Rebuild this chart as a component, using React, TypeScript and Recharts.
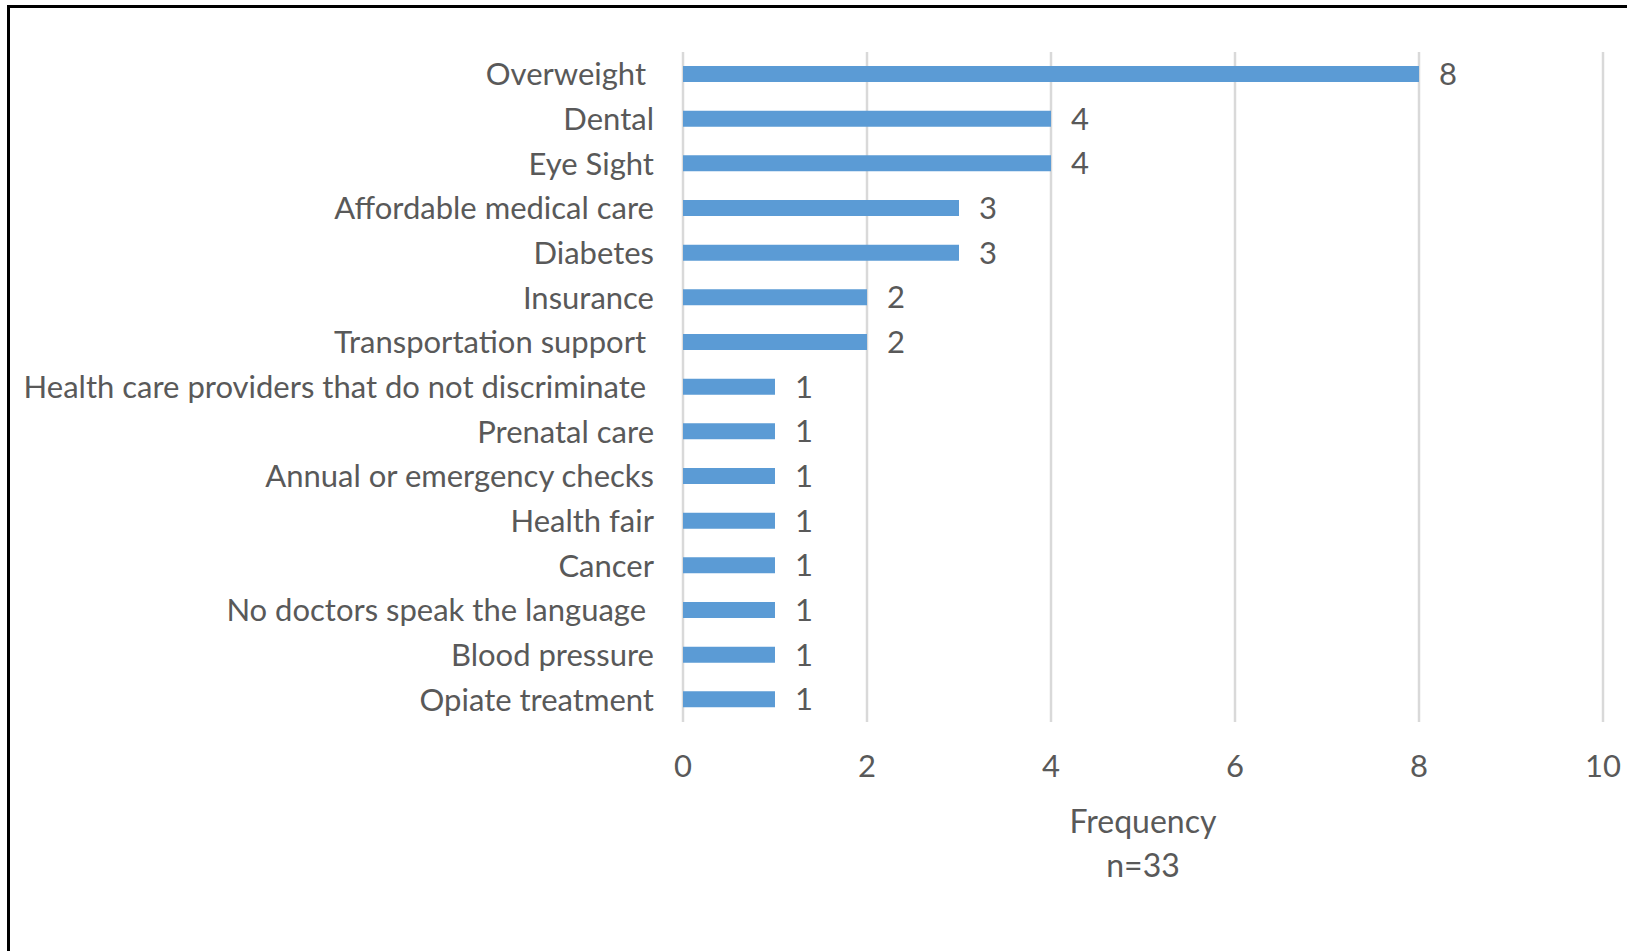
import React from 'react'
import { BarChart, Bar, XAxis, YAxis, CartesianGrid, LabelList } from 'recharts'

// Health needs mentioned, in the order they appear top to bottom
// (a few labels carry a trailing space in the source sheet)
const categories = [
  'Overweight\u00a0',
  'Dental',
  'Eye Sight',
  'Affordable medical care',
  'Diabetes',
  'Insurance',
  'Transportation support\u00a0',
  'Health care providers that do not discriminate\u00a0',
  'Prenatal care',
  'Annual or emergency checks',
  'Health fair',
  'Cancer',
  'No doctors speak the language\u00a0',
  'Blood pressure',
  'Opiate treatment',
]
const frequencies = [8, 4, 4, 3, 3, 2, 2, 1, 1, 1, 1, 1, 1, 1, 1]
const xTicks = [0, 2, 4, 6, 8, 10]
const axisTitle = 'Frequency'
const sampleNote = 'n=33'

const FONT = 'Lato, "Open Sans", sans-serif'
const TEXT = '#595959'
const BAR = '#5B9BD5'
const GRID = '#D9D9D9'
const FS = 31
const TITLE_FS = 32

const data = categories.map((name, i) => ({ name, value: frequencies[i] }))

function AxisTitle(props: any) {
  const { x, y, width } = props.viewBox
  const cx = x + width / 2
  return (
    <g>
      <text x={cx} y={y + 111} textAnchor="middle" fill={TEXT} fontSize={TITLE_FS} fontFamily={FONT}>
        {axisTitle}
      </text>
      <text x={cx} y={y + 155} textAnchor="middle" fill={TEXT} fontSize={TITLE_FS} fontFamily={FONT}>
        {sampleNote}
      </text>
    </g>
  )
}

export default function App() {
  return (
    <div style={{ position: 'fixed', inset: 0, overflow: 'hidden', background: '#fff' }}>
      <div
        style={{
          position: 'absolute',
          left: 7,
          top: 5,
          width: 1700,
          height: 1000,
          border: '3px solid #000',
        }}
      />
      <div style={{ position: 'absolute', left: 0, top: 0 }}>
        <BarChart
          width={1627}
          height={951}
          data={data}
          layout="vertical"
          margin={{ top: 52, right: 24, bottom: 79, left: 0 }}
        >
          <CartesianGrid horizontal={false} stroke={GRID} strokeWidth={2.5} />
          <XAxis
            type="number"
            domain={[0, 10]}
            ticks={xTicks}
            interval={0}
            axisLine={false}
            tickLine={false}
            tickMargin={27}
            height={150}
            tick={{ fill: TEXT, fontSize: FS, fontFamily: FONT }}
            label={<AxisTitle />}
          />
          <YAxis
            type="category"
            dataKey="name"
            width={683}
            interval={0}
            axisLine={false}
            tickLine={false}
            tickMargin={23}
            tick={{ fill: TEXT, fontSize: FS, fontFamily: FONT }}
          />
          <Bar dataKey="value" fill={BAR} barSize={16} isAnimationActive={false}>
            <LabelList
              dataKey="value"
              position="right"
              offset={20}
              fill={TEXT}
              fontSize={FS}
              fontFamily={FONT}
            />
          </Bar>
        </BarChart>
      </div>
    </div>
  )
}
